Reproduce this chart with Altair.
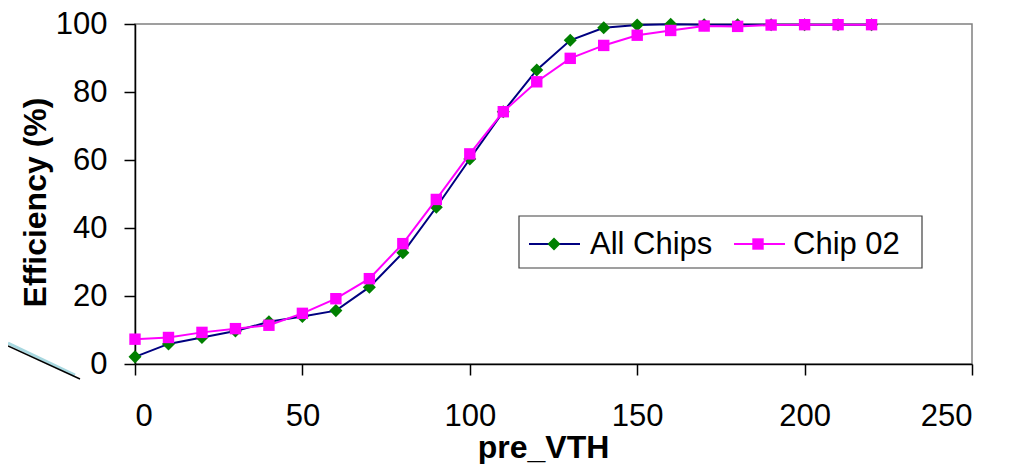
import altair as alt
import pandas as pd

# ---- data ----
pre_vth = [0, 10, 20, 30, 40, 50, 60, 70, 80, 90, 100, 110, 120, 130, 140,
           150, 160, 170, 180, 190, 200, 210, 220]
all_chips = [2.1, 5.9, 7.8, 9.7, 12.4, 14.0, 15.7, 22.6, 32.7, 46.1, 60.3, 74.2,
             86.5, 95.2, 98.9, 99.7, 99.9, 99.8, 99.8, 99.8, 99.8, 99.8, 99.8]
chip_02 = [7.3, 7.8, 9.3, 10.4, 11.4, 14.9, 19.2, 25.1, 35.4, 48.4, 61.8, 74.2,
           83.0, 89.9, 93.7, 96.7, 98.1, 99.4, 99.3, 99.7, 99.8, 99.8, 99.8]
series_names = ["All Chips", "Chip 02"]
x_ticks = [0, 50, 100, 150, 200, 250]
y_ticks = [0, 20, 40, 60, 80, 100]

W, H = 837, 340
FONT = "Liberation Sans"

df_all = pd.DataFrame({"pre_VTH": pre_vth, "eff": all_chips})
df_c02 = pd.DataFrame({"pre_VTH": pre_vth, "eff": chip_02})

xs = alt.Scale(domain=[0, 250], nice=False, zero=False)
ys = alt.Scale(domain=[0, 100], nice=False)

xenc = alt.X("pre_VTH:Q", scale=xs,
             axis=alt.Axis(values=x_ticks, title="pre_VTH", grid=False,
                           tickSize=11, labelPadding=26, labelFontSize=31,
                           titleFontSize=32, titleFontWeight="bold",
                           titleX=408, titleY=93, titleBaseline="alphabetic",
                           titleAnchor="middle", titleAlign="center"))
yenc = alt.Y("eff:Q", scale=ys,
             axis=alt.Axis(values=y_ticks, title="Efficiency (%)", grid=False,
                           tickSize=11, labelPadding=17, labelFontSize=31,
                           titleFontSize=32, titleFontWeight="bold",
                           titleAngle=270, titleX=-90, titleY=178,
                           titleBaseline="alphabetic", titleAlign="center"))

line_all = alt.Chart(df_all).mark_line(color="#000080", strokeWidth=2).encode(x=xenc, y=yenc)
pts_all = alt.Chart(df_all).mark_point(shape="diamond", filled=True, color="#008000",
                                       size=170, opacity=1).encode(x=xenc, y=yenc)
line_c02 = alt.Chart(df_c02).mark_line(color="#FF00FF", strokeWidth=2).encode(x=xenc, y=yenc)
pts_c02 = alt.Chart(df_c02).mark_point(shape="square", filled=True, color="#FF00FF",
                                       size=130, opacity=1).encode(x=xenc, y=yenc)

# ---- manual legend (line + marker combined symbols) ----
leg_df = pd.DataFrame({"name": series_names})
box = alt.Chart(leg_df.head(1)).mark_rect(fill="white", stroke="#404040", strokeWidth=1.2).encode(
    x=alt.value(384), x2=alt.value(787), y=alt.value(192), y2=alt.value(244))
leg_line1 = alt.Chart(leg_df.head(1)).mark_rule(color="#000080", strokeWidth=2).encode(
    x=alt.value(394), x2=alt.value(445), y=alt.value(220))
leg_pt1 = alt.Chart(leg_df.head(1)).mark_point(shape="diamond", filled=True, color="#008000",
                                               size=170, opacity=1).encode(
    x=alt.value(419), y=alt.value(220))
leg_txt1 = alt.Chart(leg_df.iloc[[0]]).mark_text(align="left", baseline="middle", fontSize=31,
                                                 font=FONT, color="black").encode(
    x=alt.value(455), y=alt.value(221), text="name:N")
leg_line2 = alt.Chart(leg_df.head(1)).mark_rule(color="#FF00FF", strokeWidth=2).encode(
    x=alt.value(599), x2=alt.value(650), y=alt.value(220))
leg_pt2 = alt.Chart(leg_df.head(1)).mark_point(shape="square", filled=True, color="#FF00FF",
                                               size=130, opacity=1).encode(
    x=alt.value(623), y=alt.value(220))
leg_txt2 = alt.Chart(leg_df.iloc[[1]]).mark_text(align="left", baseline="middle", fontSize=31,
                                                 font=FONT, color="black").encode(
    x=alt.value(658), y=alt.value(221), text="name:N")

# ---- callout leftover line at left ----
callout_a = alt.Chart(leg_df.head(1)).mark_rule(color="#a8d8e0", strokeWidth=3, clip=False).encode(
    x=alt.value(-127), x2=alt.value(-60), y=alt.value(319), y2=alt.value(351))
callout_b = alt.Chart(leg_df.head(1)).mark_rule(color="black", strokeWidth=1.5, clip=False).encode(
    x=alt.value(-127), x2=alt.value(-55), y=alt.value(322), y2=alt.value(355))

chart = alt.layer(
    line_all, pts_all, line_c02, pts_c02,
    box, leg_line1, leg_pt1, leg_txt1, leg_line2, leg_pt2, leg_txt2,
    callout_a, callout_b,
).properties(
    width=W, height=H,
    autosize=alt.AutoSizeParams(type="none"),
    padding={"left": 127, "top": 16, "right": 30, "bottom": 100},
).configure_view(
    stroke="#808080", strokeWidth=1.5
).configure_axis(
    domainColor="black", tickColor="black", domainWidth=1.5, tickWidth=1.5,
    labelColor="black", titleColor="black", labelFont=FONT, titleFont=FONT,
)

chart.save("out.html", embed_options={"renderer": "svg", "actions": False})
